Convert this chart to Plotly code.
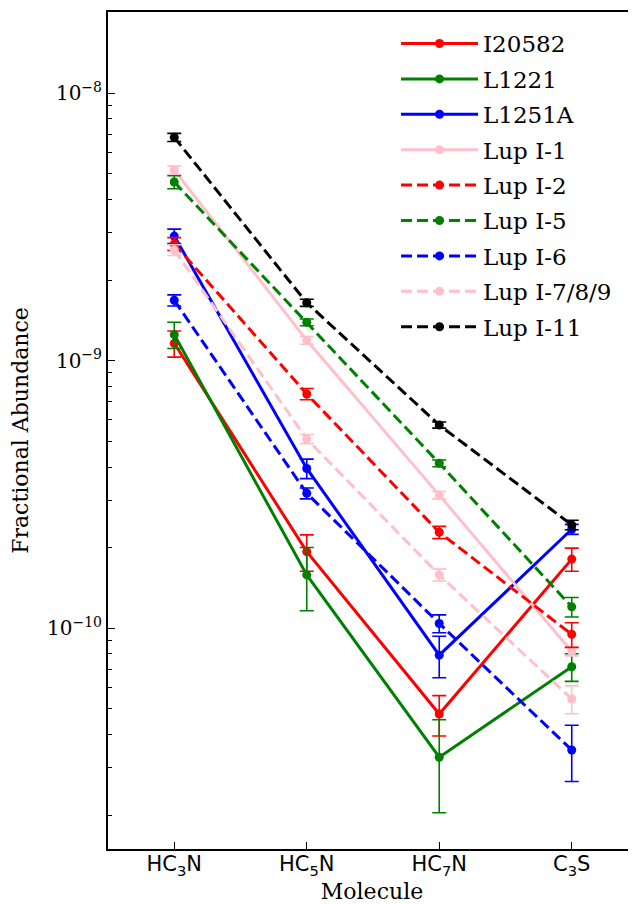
import plotly.graph_objects as go

molecules = ['HC<sub>3</sub>N', 'HC<sub>5</sub>N', 'HC<sub>7</sub>N', 'C<sub>3</sub>S']

sources = ['I20582', 'L1221', 'L1251A', 'Lup I-1', 'Lup I-2',
           'Lup I-5', 'Lup I-6', 'Lup I-7/8/9', 'Lup I-11']

i20582 = [1.16e-9, 1.93e-10, 4.77e-11, 1.81e-10]
i20582_err = [0.13e-9, 0.30e-10, 0.82e-11, 0.18e-10]
l1221 = [1.25e-9, 1.58e-10, 3.29e-11, 7.17e-11]
l1221_err = [0.14e-9, 0.42e-10, 1.25e-11, 0.85e-11]
l1251a = [2.92e-9, 3.95e-10, 7.92e-11, 2.34e-10]
l1251a_err = [0.18e-9, 0.33e-10, 1.4e-11, 0.10e-10]
lup1 = [5.15e-9, 1.19e-9, 3.14e-10, 8.17e-11]
lup1_err = [0.18e-9, 0.04e-9, 0.10e-10, 0.30e-11]
lup2 = [2.73e-9, 7.50e-10, 2.28e-10, 9.47e-11]
lup2_err = [0.15e-9, 0.36e-10, 0.12e-10, 1.0e-11]
lup5 = [4.65e-9, 1.39e-9, 4.13e-10, 1.20e-10]
lup5_err = [0.26e-9, 0.04e-9, 0.12e-10, 0.10e-10]
lup6 = [1.68e-9, 3.19e-10, 1.04e-10, 3.50e-11]
lup6_err = [0.08e-9, 0.15e-10, 0.08e-10, 0.83e-11]
lup789 = [2.59e-9, 5.09e-10, 1.58e-10, 5.43e-11]
lup789_err = [0.12e-9, 0.20e-10, 0.08e-10, 0.65e-11]
lup11 = [6.83e-9, 1.644e-9, 5.74e-10, 2.43e-10]
lup11_err = [0.24e-9, 0.05e-9, 0.15e-10, 0.10e-10]

values = [i20582, l1221, l1251a, lup1, lup2, lup5, lup6, lup789, lup11]
errors = [i20582_err, l1221_err, l1251a_err, lup1_err, lup2_err,
          lup5_err, lup6_err, lup789_err, lup11_err]
colors = ['#ff0000', '#008000', '#0000ff', '#ffc0cb', '#ff0000',
          '#008000', '#0000ff', '#ffc0cb', '#000000']
dashes = ['solid'] * 4 + ['11px,5px'] * 5

ytick_vals = [1e-10, 1e-9, 1e-8]
ytick_text = ['10<sup>\u221210</sup>', '10<sup>\u22129</sup>', '10<sup>\u22128</sup>']

fig = go.Figure()
for name, y, err, c, d in zip(sources, values, errors, colors, dashes):
    fig.add_trace(go.Scatter(
        x=list(range(len(molecules))), y=y,
        name=name, legendgroup=name,
        mode='lines+markers',
        line=dict(color=c, width=3, dash=d),
        marker=dict(size=9, color=c),
        error_y=dict(type='data', array=err, visible=True,
                     color=c, thickness=1.6, width=7),
    ))

# minor ticks for the log axis (2..9 x each decade)
minor_vals = [m * 10 ** e for e in range(-11, -7) for m in range(2, 10)]

# page body has an 8px margin, so the figure is drawn 8px in from the top-left
fig.update_layout(
    width=628, height=896,
    margin=dict(l=100, r=0, t=4, b=55, autoexpand=False),
    plot_bgcolor='white', paper_bgcolor='white',
    font=dict(family='DejaVu Serif', color='black'),
    showlegend=True,
    legend=dict(x=0.5455, y=0.988, xanchor='left', yanchor='top',
                font=dict(family='DejaVu Serif', size=23, color='black'),
                bgcolor='rgba(0,0,0,0)', itemwidth=77,
                tracegroupgap=2.5),
)
fig.update_xaxes(
    range=[-0.5, 3.485], automargin=False,
    tickvals=list(range(len(molecules))), ticktext=molecules,
    tickfont=dict(family='DejaVu Sans', size=21, color='black'),
    ticklabelstandoff=-5,
    ticks='inside', ticklen=7, tickwidth=1, tickcolor='black',
    showline=True, linecolor='black', linewidth=2, mirror=True,
    showgrid=False, zeroline=False,
    title=dict(text='Molecule', font=dict(family='DejaVu Serif', size=22),
               standoff=0),
)
fig.update_yaxes(
    type='log', range=[-10.826, -7.697], automargin=False,
    tickvals=ytick_vals, ticktext=ytick_text,
    tickfont=dict(family='DejaVu Serif', size=20, color='black'),
    ticks='inside', ticklen=7, tickwidth=1, tickcolor='black',
    minor=dict(tickvals=minor_vals, ticks='inside', ticklen=4,
               tickcolor='black', showgrid=False),
    showline=True, linecolor='black', linewidth=2,
    showgrid=False, zeroline=False,
    title=dict(text='Fractional Abundance',
               font=dict(family='DejaVu Serif', size=22), standoff=14),
)

fig.write_html("out.html")
